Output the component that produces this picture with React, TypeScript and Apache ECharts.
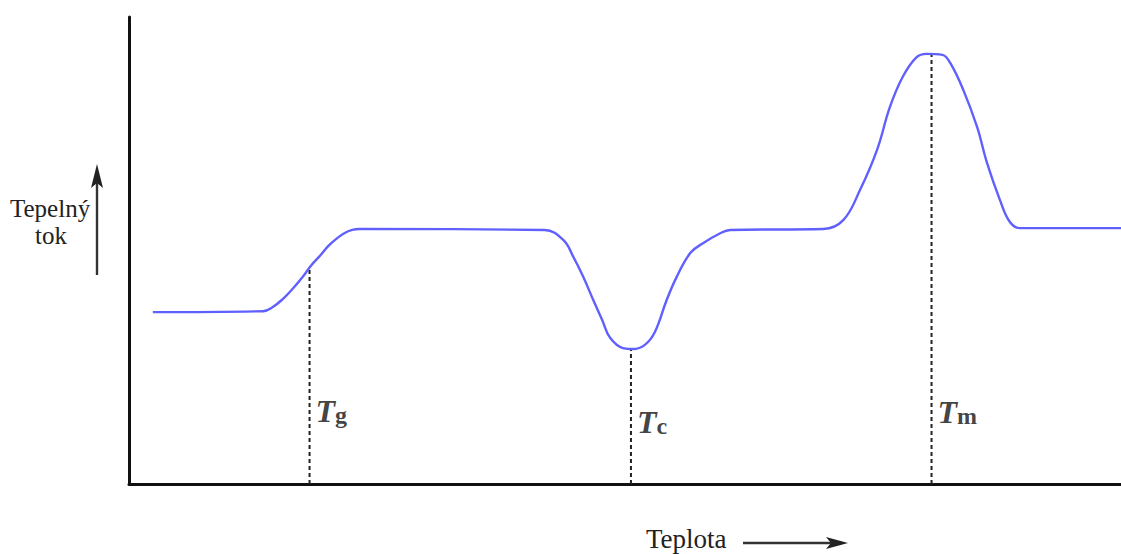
import React, { useEffect, useRef } from "react";
import * as echarts from "echarts";

// Schematic DSC curve: temperature (arbitrary units) vs heat flow (arbitrary units)
const curveX = [2.4, 13.5, 14.5, 15.5, 16.5, 17.5, 18.4, 19.3, 20.1, 20.9, 21.7, 22.5, 23.2, 41.9, 43.8, 44.8, 45.8, 46.8, 47.7, 48.5, 49.8, 50.8, 52.0, 53.0, 54.2, 55.2, 56.6, 57.9, 59.6, 60.6, 70.0, 72.0, 73.7, 75.4, 76.7, 78.0, 79.4, 80.4, 82.0, 82.8, 84.1, 85.5, 86.5, 87.8, 88.8, 89.8, 100];
const curveY = [36.8, 37.0, 37.9, 39.6, 41.8, 44.3, 46.9, 49.0, 51.0, 52.5, 53.7, 54.4, 54.6, 54.4, 52.2, 48.6, 44.3, 39.4, 35.1, 31.3, 29.1, 28.9, 29.8, 32.5, 39.4, 44.3, 49.5, 51.6, 53.7, 54.4, 54.6, 56.5, 63.0, 71.5, 80.7, 87.2, 91.4, 92.1, 91.9, 90.1, 84.4, 76.4, 68.7, 60.8, 56.1, 54.8, 54.8];

// Characteristic temperatures
const transNames = ["g", "c", "m"];
const transX = [18.2, 50.6, 80.9];
const transTopY = [45.8, 28.7, 92.1];
const transLabelY = [15.6, 13.3, 15.4];

const yAxisTitleLines = ["Tepelný", "tok"];
const xAxisTitle = "Teplota";

const SERIF = "Times New Roman, Liberation Serif, DejaVu Serif, serif";

export default function App() {
  const ref = useRef<HTMLDivElement>(null);
  useEffect(() => {
    if (!ref.current) return;
    const chart = echarts.init(ref.current, null, { renderer: "svg" });
    const curve = curveX.map((x, i) => [x, curveY[i]]);
    const dashSeries = transX.map((x, i) => ({
      type: "line",
      data: [
        [x, 0],
        [x, transTopY[i]],
      ],
      symbol: "none",
      silent: true,
      z: 1,
      lineStyle: { color: "#222", width: 2, type: [4, 3] },
    }));
    const labelSeries = {
      type: "scatter",
      symbolSize: 0,
      silent: true,
      data: transX.map((x, i) => ({
        value: [x, transLabelY[i]],
        name: transNames[i],
      })),
      label: {
        show: true,
        position: "right",
        distance: 6,
        formatter: (p: any) => `{T|T}{s|${p.name}}`,
        rich: {
          T: {
            fontFamily: SERIF,
            fontStyle: "italic",
            fontWeight: "bold",
            fontSize: 32,
            lineHeight: 32,
            color: "#111",
          },
          s: {
            fontFamily: SERIF,
            fontWeight: "bold",
            fontSize: 24,
            lineHeight: 14,
            verticalAlign: "bottom",
            color: "#111",
          },
        },
      },
    };
    const titleStyle = (size: number) => ({
      fontFamily: SERIF,
      fontSize: size,
      lineHeight: size,
      fontWeight: "normal",
      color: "#222",
    });
    chart.setOption({
      animation: false,
      backgroundColor: "#ffffff",
      title: [
        { text: yAxisTitleLines[0], left: 10, top: 196, padding: 0, textStyle: titleStyle(25) },
        { text: yAxisTitleLines[1], left: 35, top: 223, padding: 0, textStyle: titleStyle(25) },
        { text: xAxisTitle, left: 646, top: 525, padding: 0, textStyle: titleStyle(27) },
      ],
      grid: { left: 129, right: 0, top: 17, bottom: 70 },
      xAxis: {
        type: "value",
        min: 0,
        max: 100,
        axisLine: { show: true, onZero: false, lineStyle: { color: "#111", width: 3 } },
        axisTick: { show: false },
        axisLabel: { show: false },
        splitLine: { show: false },
      },
      yAxis: {
        type: "value",
        min: 0,
        max: 100,
        axisLine: { show: true, onZero: false, lineStyle: { color: "#111", width: 3 } },
        axisTick: { show: false },
        axisLabel: { show: false },
        splitLine: { show: false },
      },
      series: [
        {
          type: "line",
          data: curve,
          smooth: 0.4,
          symbol: "none",
          z: 3,
          lineStyle: { color: "#6060ff", width: 2.4 },
        },
        ...dashSeries,
        labelSeries,
      ],
      graphic: [
        {
          type: "line",
          shape: { x1: 97, y1: 275, x2: 97, y2: 182 },
          style: { stroke: "#333", lineWidth: 2.4 },
        },
        {
          type: "polygon",
          shape: { points: [[97, 164], [103, 188], [97, 183], [91, 188]] },
          style: { fill: "#222" },
        },
        {
          type: "line",
          shape: { x1: 743, y1: 543, x2: 832, y2: 543 },
          style: { stroke: "#333", lineWidth: 2.4 },
        },
        {
          type: "polygon",
          shape: { points: [[848, 543], [826, 537], [831, 543], [826, 549]] },
          style: { fill: "#222" },
        },
      ],
    });
    return () => chart.dispose();
  }, []);
  return (
    <div
      ref={ref}
      style={{ position: "fixed", left: 0, top: 0, width: 1121, height: 554 }}
    />
  );
}
